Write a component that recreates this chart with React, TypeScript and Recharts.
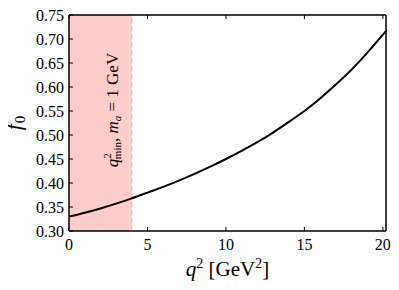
import { LineChart, Line, XAxis, YAxis, ReferenceArea, ReferenceLine, Label } from 'recharts';

// q^2 in GeV^2 and the f0 form factor
const q2Values = [0, 1, 2, 3, 4, 5, 6, 7, 8, 9, 10, 11, 12, 13, 14, 15, 16, 17, 18, 19, 20, 20.2];
const f0Values = [0.330, 0.338, 0.347, 0.357, 0.368, 0.380, 0.392, 0.405, 0.419, 0.434, 0.450, 0.467, 0.485, 0.505, 0.527, 0.550, 0.576, 0.605, 0.636, 0.671, 0.709, 0.717];

const xTicks = [0, 5, 10, 15, 20];
const yTicks = [0.3, 0.35, 0.4, 0.45, 0.5, 0.55, 0.6, 0.65, 0.7, 0.75];
const q2Min = 4;

const data = q2Values.map((q2, i) => ({ q2, f0: f0Values[i] }));

const serif = '"Liberation Serif", "DejaVu Serif", serif';
const TICK = 4;

const LeftTick = ({ x, y, payload }: any) => (
  <g>
    <line x1={x + 5} x2={x + 5 + TICK} y1={y} y2={y} stroke="#000" />
    <text x={x} y={y} dy="0.35em" textAnchor="end" fontFamily={serif} fontSize={16} fill="#000">
      {payload.value.toFixed(2)}
    </text>
  </g>
);

const RightTick = ({ x, y }: any) => <line x1={x - TICK} x2={x} y1={y} y2={y} stroke="#000" />;

const BottomTick = ({ x, y, payload }: any) => (
  <g>
    <line x1={x} x2={x} y1={y - 8} y2={y - 8 - TICK} stroke="#000" />
    <text x={x} y={y} dy="0.71em" textAnchor="middle" fontFamily={serif} fontSize={16} fill="#000">
      {payload.value}
    </text>
  </g>
);

const TopTick = ({ x, y }: any) => <line x1={x} x2={x} y1={y} y2={y + TICK} stroke="#000" />;

const XLabel = ({ viewBox }: any) => (
  <text x={viewBox.x + viewBox.width / 2} y={viewBox.y + 45} textAnchor="middle" fontFamily={serif} fontSize={21} fill="#000">
    <tspan fontStyle="italic">q</tspan>
    <tspan fontSize={14} dy={-8}>2</tspan>
    <tspan dy={8}> [GeV</tspan>
    <tspan fontSize={14} dy={-8}>2</tspan>
    <tspan dy={8}>]</tspan>
  </text>
);

const YLabel = ({ viewBox }: any) => {
  const cx = 21;
  const cy = viewBox.y + viewBox.height / 2;
  return (
    <text x={cx} y={cy} transform={`rotate(-90 ${cx} ${cy})`} textAnchor="middle" fontFamily={serif} fontSize={22} fill="#000">
      <tspan fontStyle="italic">f</tspan>
      <tspan fontSize={15} dx={1} dy={4}>0</tspan>
    </text>
  );
};

const MinLabel = ({ viewBox }: any) => {
  const cx = viewBox.x - 14;
  const cy = 110;
  return (
    <text x={cx} y={cy} transform={`rotate(-90 ${cx} ${cy})`} textAnchor="middle" fontFamily={serif} fontSize={17} fill="#000">
      <tspan fontStyle="italic">q</tspan>
      <tspan fontSize={11} dy={-7}>2</tspan>
      <tspan fontSize={11} dx={-6} dy={10}>min</tspan>
      <tspan dy={-3}>, </tspan>
      <tspan fontStyle="italic">m</tspan>
      <tspan fontStyle="italic" fontSize={11} dy={3}>a</tspan>
      <tspan dy={-3}> = 1 GeV</tspan>
    </text>
  );
};

export default function App() {
  return (
    <div style={{ margin: -8, width: 399, height: 290, background: '#fff' }}>
      <LineChart width={399} height={290} data={data} margin={{ top: 14, right: 12, bottom: 0, left: 0 }}>
        <ReferenceArea x1={0} x2={q2Min} y1={0.3} y2={0.75} fill="#ffcccc" fillOpacity={1} stroke="none" ifOverflow="hidden" />
        <ReferenceLine x={q2Min} stroke="#ffaaaa" strokeDasharray="5 3" strokeWidth={1.2}>
          <Label content={MinLabel} />
        </ReferenceLine>
        <ReferenceArea x1={0} x2={20.2} y1={0.3} y2={0.75} fill="none" stroke="#000" strokeWidth={1} ifOverflow="visible" />
        <XAxis
          dataKey="q2"
          type="number"
          domain={[0, 20.2]}
          ticks={xTicks}
          height={59}
          tickSize={0}
          tickMargin={8}
          tick={BottomTick}
          axisLine={{ stroke: '#000' }}
          interval={0}
        >
          <Label content={XLabel} />
        </XAxis>
        <XAxis
          xAxisId="top"
          orientation="top"
          dataKey="q2"
          type="number"
          domain={[0, 20.2]}
          ticks={xTicks}
          height={1}
          tickSize={0}
          tickMargin={0}
          tick={TopTick}
          axisLine={{ stroke: '#000' }}
          interval={0}
        />
        <YAxis
          domain={[0.3, 0.75]}
          ticks={yTicks}
          width={69}
          tickSize={0}
          tickMargin={5}
          tick={LeftTick}
          axisLine={{ stroke: '#000' }}
          interval={0}
        >
          <Label content={YLabel} />
        </YAxis>
        <YAxis
          yAxisId="right"
          orientation="right"
          domain={[0.3, 0.75]}
          ticks={yTicks}
          width={1}
          tickSize={0}
          tickMargin={0}
          tick={RightTick}
          axisLine={{ stroke: '#000' }}
          interval={0}
        />
        <Line dataKey="f0" type="natural" stroke="#000" strokeWidth={2} dot={false} isAnimationActive={false} />
      </LineChart>
    </div>
  );
}
